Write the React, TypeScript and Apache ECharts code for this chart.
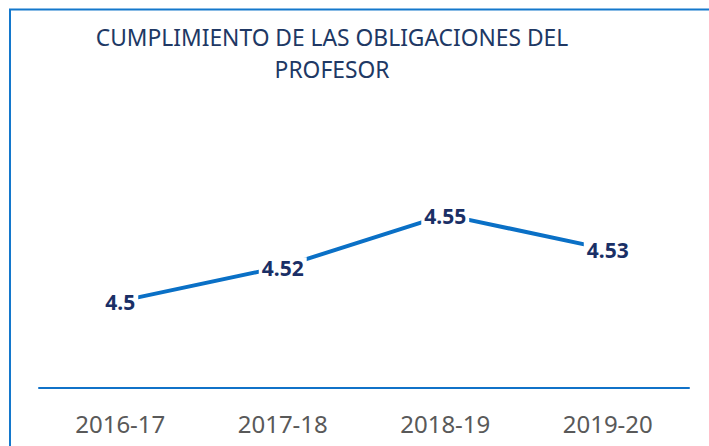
import React, { useEffect, useRef } from "react";
import * as echarts from "echarts";

const categories = ["2016-17", "2017-18", "2018-19", "2019-20"];
const values = [4.5, 4.52, 4.55, 4.53];
const titleLines = ["CUMPLIMIENTO DE LAS OBLIGACIONES DEL", "PROFESOR"];

const FONT = '"Noto Sans", sans-serif';

export default function App() {
  const ref = useRef<HTMLDivElement>(null);
  useEffect(() => {
    if (!ref.current) return;
    const chart = echarts.init(ref.current, undefined, { renderer: "svg" });
    chart.setOption({
      animation: false,
      backgroundColor: "#ffffff",
      grid: { left: 39, right: 20, top: 128.5, bottom: 58.5, containLabel: false },
      xAxis: {
        type: "category",
        data: categories,
        boundaryGap: true,
        axisLine: { show: true, lineStyle: { color: "#1072c8", width: 2 } },
        axisTick: { show: false },
        axisLabel: { color: "#595959", fontSize: 24, fontFamily: FONT, margin: 24 },
        splitLine: { show: false },
      },
      yAxis: {
        type: "value",
        min: 4.45,
        max: 4.6,
        show: false,
        splitLine: { show: false },
      },
      series: [
        {
          type: "line",
          data: values,
          symbol: "circle",
          symbolSize: 2,
          itemStyle: { color: "#0a70c6" },
          lineStyle: { color: "#0a70c6", width: 4 },
          label: {
            show: true,
            position: "inside",
            color: "#1a2f66",
            fontWeight: "bold",
            fontSize: 21,
            fontFamily: FONT,
            backgroundColor: "#ffffff",
            padding: [0, 3],
            offset: [0, 1],
          },
        },
      ],
      graphic: [
        {
          type: "rect",
          shape: { x: 10, y: 9.5, width: 900, height: 700 },
          style: { fill: "none", stroke: "#1478cc", lineWidth: 2 },
          silent: true,
        },
        {
          type: "text",
          x: 332,
          y: 21,
          style: {
            text: titleLines.join("\n"),
            align: "center",
            verticalAlign: "top",
            fontSize: 22.8,
            lineHeight: 32,
            fontFamily: FONT,
            fill: "#203864",
          },
          silent: true,
        },
      ],
    });
    return () => chart.dispose();
  }, []);
  return (
    <div style={{ position: "fixed", left: 0, top: 0, width: 709, height: 446 }}>
      <div ref={ref} style={{ width: 709, height: 446 }} />
    </div>
  );
}
